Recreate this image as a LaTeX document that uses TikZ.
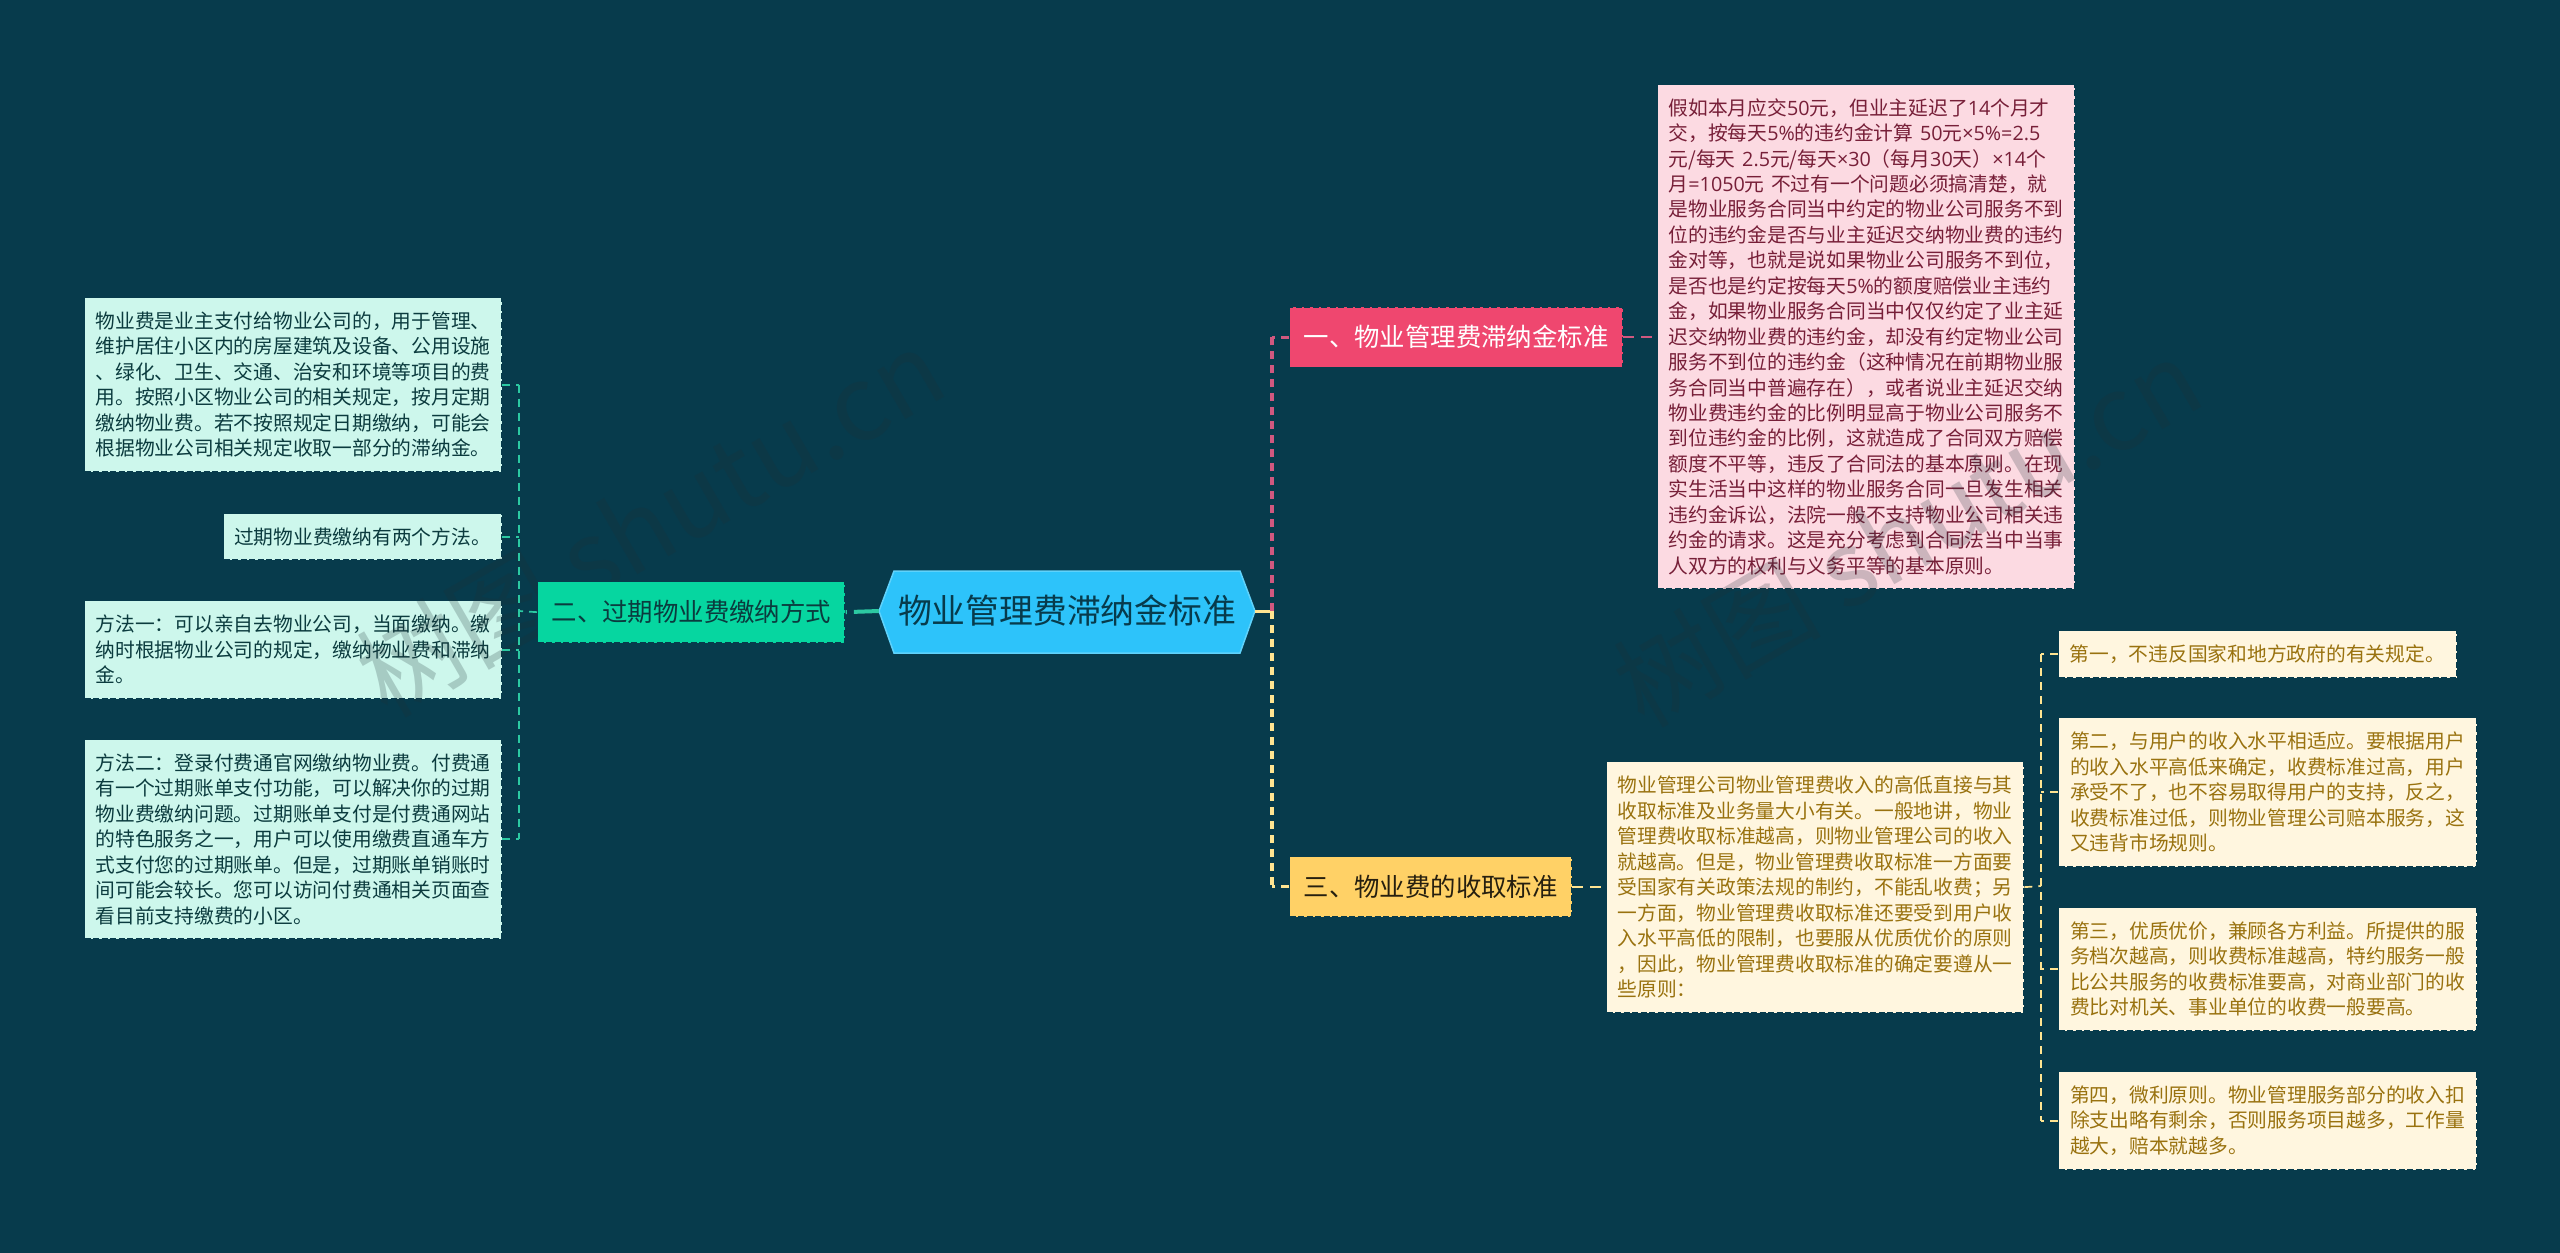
\documentclass[tikz,border=0pt]{standalone}
\usepackage{fontspec}
\setmainfont{Noto Sans CJK SC}
\newfontfamily\ltnfont{Open Sans}
\newcommand{\ltn}[1]{{\ltnfont #1}}
\definecolor{bgc}{HTML}{073B4C}
\definecolor{hexc}{HTML}{2DC3FA}
\definecolor{hexb}{HTML}{5FD2FB}
\definecolor{pkm}{HTML}{EF476F}
\definecolor{grm}{HTML}{06D6A0}
\definecolor{ylm}{HTML}{FFD166}
\definecolor{pkl}{HTML}{FCDAE2}
\definecolor{grl}{HTML}{CDF7EC}
\definecolor{yll}{HTML}{FFF6DF}
\definecolor{pkt}{HTML}{771F38}
\definecolor{grt}{HTML}{0B3B3E}
\definecolor{ylt}{HTML}{99720F}
\definecolor{pkw}{HTML}{D0587F}
\definecolor{grw}{HTML}{2CC9A2}
\definecolor{ylw}{HTML}{FFE491}
\definecolor{wmc}{HTML}{1F2F35}
\tikzset{
  base/.style={anchor=north west,rectangle,draw=bgc,line width=1.3pt,dash pattern=on 6pt off 2.5pt,align=left,inner ysep=0pt},
  big/.style={base,font=\fontsize{25.4}{32}\selectfont,inner xsep=14pt},
  small/.style={base,inner xsep=11pt,font=\fontsize{19.75}{25.45}\selectfont},
  pinkbox/.style={small,fill=pkl,text=pkt},
  greenbox/.style={small,fill=grl,text=grt},
  yellowbox/.style={small,fill=yll,text=ylt},
  thickw/.style={line width=3.3pt,dash pattern=on 8pt off 6pt},
  thinw/.style={line width=1.7pt,dash pattern=on 8pt off 6pt},
  longw/.style={line width=1.7pt,dash pattern=on 11pt off 7pt},
  wmark/.style={text=wmc,opacity=.22,font=\fontsize{104}{104}\selectfont,rotate=30,inner sep=0pt}
}
\begin{document}
\begin{tikzpicture}[x=1pt,y=-1pt]
\useasboundingbox (0,0) rectangle (2560,1253);
\fill[bgc] (0,0) rectangle (2560,1253);
% pink detail
\node[pinkbox,text width=395pt,minimum width=417pt,minimum height=504pt] (p1) at (1657,84) {假如本月应交\ltn{50}元，但业主延迟了\ltn{14}个月才\\
交，按每天\ltn{5\%}的违约金计算 \ltn{50}元\ltn{×5\%=2.5}\\
元/每天 \ltn{2.5}元/每天\ltn{×30}（每月\ltn{30}天）\ltn{×14}个\\
月\ltn{=1050}元 不过有一个问题必须搞清楚，就\\
是物业服务合同当中约定的物业公司服务不到\\
位的违约金是否与业主延迟交纳物业费的违约\\
金对等，也就是说如果物业公司服务不到位，\\
是否也是约定按每天\ltn{5\%}的额度赔偿业主违约\\
金，如果物业服务合同当中仅仅约定了业主延\\
迟交纳物业费的违约金，却没有约定物业公司\\
服务不到位的违约金（这种情况在前期物业服\\
务合同当中普遍存在），或者说业主延迟交纳\\
物业费违约金的比例明显高于物业公司服务不\\
到位违约金的比例，这就造成了合同双方赔偿\\
额度不平等，违反了合同法的基本原则。在现\\
实生活当中这样的物业服务合同一旦发生相关\\
违约金诉讼，法院一般不支持物业公司相关违\\
约金的请求。这是充分考虑到合同法当中当事\\
人双方的权利与义务平等的基本原则。};
% green details
\node[greenbox,text width=395pt,minimum width=417pt,minimum height=174pt] (g1) at (84,297) {物业费是业主支付给物业公司的，用于管理、\\
维护居住小区内的房屋建筑及设备、公用设施\\
、绿化、卫生、交通、治安和环境等项目的费\\
用。按照小区物业公司的相关规定，按月定期\\
缴纳物业费。若不按照规定日期缴纳，可能会\\
根据物业公司相关规定收取一部分的滞纳金。};
\node[greenbox,text width=257pt,inner xsep=10.5pt,minimum width=278pt,minimum height=46pt] (g2) at (223,513) {过期物业费缴纳有两个方法。};
\node[greenbox,text width=395pt,minimum width=417pt,minimum height=98pt] (g3) at (84,600) {方法一：可以亲自去物业公司，当面缴纳。缴\\
纳时根据物业公司的规定，缴纳物业费和滞纳\\
金。};
\node[greenbox,text width=395pt,minimum width=417pt,minimum height=199pt] (g4) at (84,739) {方法二：登录付费通官网缴纳物业费。付费通\\
有一个过期账单支付功能，可以解决你的过期\\
物业费缴纳问题。过期账单支付是付费通网站\\
的特色服务之一，用户可以使用缴费直通车方\\
式支付您的过期账单。但是，过期账单销账时\\
间可能会较长。您可以访问付费通相关页面查\\
看目前支持缴费的小区。};
% watermark, above the detail boxes and beneath the branch nodes
\node[wmark] (wm1) at (650,522) {树图 shutu.cn};
\node[wmark] (wm2) at (1907,532) {树图 shutu.cn};
% root
\draw[fill=hexc,draw=hexb,line width=1.5pt] (879,611) -- (894,571) -- (1240,571) -- (1255,611) -- (1240,653) -- (894,653) -- cycle;
\node[text=bgc,font=\fontsize{33.8}{40}\selectfont,minimum width=376pt,minimum height=82pt,inner sep=0pt] (root) at (1067,611) {物业管理费滞纳金标准};
% main branches
\node[big,fill=pkm,text=white,minimum width=333pt,minimum height=60pt] (m1) at (1289,306.5) {一、物业管理费滞纳金标准};
\node[big,fill=grm,text=grt,minimum width=307pt,minimum height=61pt] (m2) at (537,581) {二、过期物业费缴纳方式};
\node[big,fill=ylm,text=black!85!ylm,minimum width=282pt,minimum height=60pt] (m3) at (1289,856) {三、物业费的收取标准};
% yellow details
\node[yellowbox,text width=395pt,minimum width=417pt,minimum height=251pt] (y0) at (1606,761) {物业管理公司物业管理费收入的高低直接与其\\
收取标准及业务量大小有关。一般地讲，物业\\
管理费收取标准越高，则物业管理公司的收入\\
就越高。但是，物业管理费收取标准一方面要\\
受国家有关政策法规的制约，不能乱收费；另\\
一方面，物业管理费收取标准还要受到用户收\\
入水平高低的限制，也要服从优质优价的原则\\
，因此，物业管理费收取标准的确定要遵从一\\
些原则：};
\node[yellowbox,text width=376pt,minimum width=398pt,minimum height=47pt] (y1) at (2058,630) {第一，不违反国家和地方政府的有关规定。};
\node[yellowbox,text width=395pt,minimum width=418pt,minimum height=149pt] (y2) at (2058,717) {第二，与用户的收入水平相适应。要根据用户\\
的收入水平高低来确定，收费标准过高，用户\\
承受不了，也不容易取得用户的支持，反之，\\
收费标准过低，则物业管理公司赔本服务，这\\
又违背市场规则。};
\node[yellowbox,text width=395pt,minimum width=418pt,minimum height=123pt] (y3) at (2058,907) {第三，优质优价，兼顾各方利益。所提供的服\\
务档次越高，则收费标准越高，特约服务一般\\
比公共服务的收费标准要高，对商业部门的收\\
费比对机关、事业单位的收费一般要高。};
\node[yellowbox,text width=395pt,minimum width=418pt,minimum height=98pt] (y4) at (2058,1071) {第四，微利原则。物业管理服务部分的收入扣\\
除支出略有剩余，否则服务项目越多，工作量\\
越大，赔本就越多。};
% trunks
\coordinate (tl) at (519,611);
\coordinate (tr) at (1272,611);
\coordinate (ty) at (2041,886);
% root links
\draw[grw,line width=4pt,dash pattern=on 25pt off 7pt on 3.5pt off 99pt] (root.west) -- (m2.east);
\draw[ylw,line width=3pt] (root.east) -- (tr);
\draw[pkw,thickw] (tr) -- (tr |- m1.west);
\draw[pkw,thickw] (m1.west) -- (tr |- m1.west);
\draw[ylw,thickw] (tr) -- (tr |- m3.west);
\draw[ylw,thickw] (m3.west) -- (tr |- m3.west);
% pink/yellow main to detail
\draw[pkw,longw] (m1.east) -- (p1.west |- m1.east);
\draw[ylw,longw] (m3.east) -- (y0.west |- m3.east);
% left trunk
\draw[grw,thinw] (tl |- g1.east) -- (tl |- g4.east);
\draw[grw,thinw] (m2.west) -- (tl);
\foreach \n in {g1,g2,g3,g4}{\draw[grw,thinw] (\n.east) -- (tl |- \n.east);}
% right trunk
\draw[ylw,thinw] (ty |- y1.west) -- (ty |- y4.west);
\draw[ylw,thinw] (y0.east) -- (ty);
\foreach \n in {y1,y2,y3,y4}{\draw[ylw,thinw] (\n.west) -- (ty |- \n.west);}
\end{tikzpicture}
\end{document}
